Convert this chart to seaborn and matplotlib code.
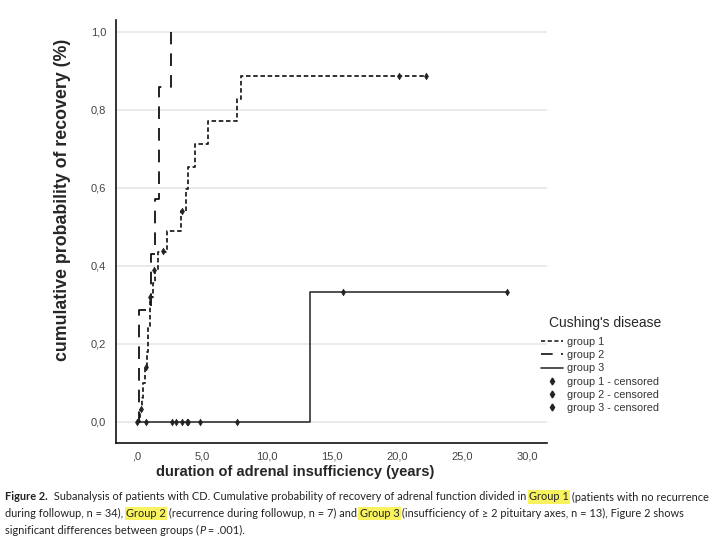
import numpy as np
import pandas as pd
import seaborn as sns
import matplotlib.pyplot as plt
from matplotlib.lines import Line2D

# curvas de Kaplan-Meier (tempo em anos, probabilidade acumulada)
g1_tempo = [0.0, 0.25, 0.4, 0.5, 0.65, 0.8, 0.9, 1.0, 1.05, 1.25, 1.4, 1.6,
            2.35, 3.36, 3.8, 3.97, 4.46, 5.49, 7.67, 7.97, 22.2]
g1_prob = [0.0, 0.03, 0.06, 0.10, 0.14, 0.18, 0.24, 0.29, 0.32, 0.355, 0.39, 0.435,
           0.488, 0.54, 0.597, 0.653, 0.712, 0.77, 0.828, 0.886, 0.886]

g2_tempo = [0.0, 0.18, 1.13, 1.38, 1.69, 2.6]
g2_prob = [0.0, 0.286, 0.429, 0.571, 0.857, 1.0]

g3_tempo = [0.0, 13.3, 28.4]
g3_prob = [0.0, 0.333, 0.333]

# censurados
c1_tempo = [0.3, 0.74, 1.05, 1.33, 2.0, 3.5, 20.15, 22.2]
c1_prob = [0.033, 0.14, 0.32, 0.39, 0.437, 0.54, 0.886, 0.886]
c3_tempo = [0.0, 0.7, 2.67, 3.0, 3.48, 3.82, 3.97, 4.85, 7.67, 15.8, 28.4]
c3_prob = [0.0, 0.0, 0.0, 0.0, 0.0, 0.0, 0.0, 0.0, 0.0, 0.333, 0.333]

y_ticks = [0.0, 0.2, 0.4, 0.6, 0.8, 1.0]
y_labels = ["0,0", "0,2", "0,4", "0,6", "0,8", "1,0"]
x_ticks = [0, 5, 10, 15, 20, 25, 30]
x_labels = [",0", "5,0", "10,0", "15,0", "20,0", "25,0", "30,0"]

sns.set_style("white")
plt.rcParams["font.family"] = ["Liberation Sans", "DejaVu Sans"]

fig = plt.figure(figsize=(7.2, 5.4), dpi=100)
ax = fig.add_axes([0.161, 0.180, 0.599, 0.783])

for y in y_ticks:
    ax.axhline(y, color="#e6e6e6", lw=1.2, zorder=0)

sns.lineplot(x=g3_tempo, y=g3_prob, drawstyle="steps-post", estimator=None, sort=False,
             color="#333333", lw=1.2, ax=ax)
l1 = sns.lineplot(x=g1_tempo, y=g1_prob, drawstyle="steps-post", estimator=None, sort=False,
                  color="#222222", lw=1.3, ax=ax).lines[-1]
l1.set_dashes([2.5, 1.5])
l2 = sns.lineplot(x=g2_tempo, y=g2_prob, drawstyle="steps-post", estimator=None, sort=False,
                  color="#111111", lw=1.3, ax=ax).lines[-1]
l2.set_dashes([7, 5])

sns.scatterplot(x=c1_tempo, y=c1_prob, marker="d", s=12, color="#222222",
                edgecolor="#222222", linewidth=0.4, ax=ax, zorder=5)
sns.scatterplot(x=c3_tempo, y=c3_prob, marker="d", s=12, color="#222222",
                edgecolor="#222222", linewidth=0.4, ax=ax, zorder=5)

ax.set_xlim(-1.6, 31.5)
ax.set_ylim(-0.054, 1.03)
ax.set_xticks(x_ticks)
ax.set_xticklabels(x_labels)
ax.set_yticks(y_ticks)
ax.set_yticklabels(y_labels)
ax.tick_params(axis="both", labelsize=8, labelcolor="#444444", width=1.3,
               color="#222222", direction="out")
ax.tick_params(axis="x", length=4, pad=2)
ax.tick_params(axis="y", length=6, pad=1)
sns.despine(ax=ax)
for s in ["left", "bottom"]:
    ax.spines[s].set_color("#111111")
    ax.spines[s].set_linewidth(1.2)

ax.set_xlabel("duration of adrenal insufficiency (years)", fontsize=10.5, fontweight="bold")
ax.set_ylabel("cumulative probability of recovery (%)", fontsize=12.8, fontweight="bold")
ax.xaxis.set_label_coords(0.415, -0.052)
ax.yaxis.set_label_coords(-0.104, 0.574)

# legenda
handles = [
    Line2D([], [], color="#222222", lw=1.2, dashes=[2.5, 1.5]),
    Line2D([], [], color="#111111", lw=1.2, dashes=[7, 5]),
    Line2D([], [], color="#333333", lw=1.2),
    Line2D([], [], color="#222222", marker="d", ls="none", ms=3.5),
    Line2D([], [], color="#222222", marker="d", ls="none", ms=3.5),
    Line2D([], [], color="#222222", marker="d", ls="none", ms=3.5),
]
labels = ["group 1", "group 2", "group 3",
          "group 1 - censored", "group 2 - censored", "group 3 - censored"]
leg = fig.legend(handles, labels, title="Cushing's disease", loc="upper left",
                 bbox_to_anchor=(0.745, 0.416), frameon=False, fontsize=7.8,
                 title_fontsize=10, handlelength=2.1, handletextpad=0.35,
                 labelspacing=0.3, alignment="left", borderaxespad=0)
leg.get_title().set_position((8, 4))
for t in leg.get_texts():
    t.set_color("#333333")

# legenda da figura (texto com destaques)
linhas = [
    [("Figure 2.", "b"), ("  Subanalysis of patients with CD. Cumulative probability of recovery of adrenal function divided in ", ""),
     ("Group 1", "h"), (" (patients with no recurrence", "")],
    [("during followup, n = 34), ", ""), ("Group 2", "h"),
     (" (recurrence during followup, n = 7) and ", ""), ("Group 3", "h"),
     (" (insufficiency of \u2265 2 pituitary axes, n = 13), Figure 2 shows", "")],
    [("significant differences between groups (", ""), ("P", "i"), (" = .001).", "")],
]
y0 = 497
for linha in linhas:
    prev = None
    for texto, estilo in linha:
        kw = dict(fontsize=7.95, color="#222222", va="center", ha="left",
                  family=["Lato", "DejaVu Sans"])
        if estilo == "b":
            kw["fontweight"] = "bold"
        if estilo == "i":
            kw["fontstyle"] = "italic"
        if estilo == "h":
            kw["bbox"] = dict(boxstyle="square,pad=0.12", fc="#f7f25e", ec="none")
        if prev is None:
            prev = fig.text(5 / 720, 1 - y0 / 540, texto, **kw)
        else:
            prev = ax.annotate(texto, xy=(1, 0.5), xycoords=prev, annotation_clip=False, **kw)
    y0 += 16.5

fig.savefig("out.png", dpi=100)
